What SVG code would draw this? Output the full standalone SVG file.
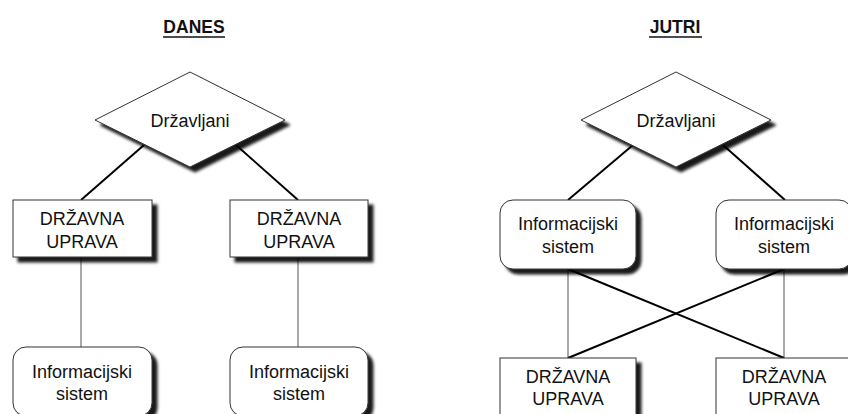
<svg xmlns="http://www.w3.org/2000/svg" width="848" height="414" viewBox="0 0 848 414">
  <defs>
    <filter id="shadow" x="-10%" y="-10%" width="130%" height="140%">
      <feGaussianBlur in="SourceAlpha" stdDeviation="1.6"/>
      <feOffset dx="5" dy="5" result="off"/>
      <feFlood flood-color="#000" flood-opacity="0.9"/>
      <feComposite in2="off" operator="in" result="sh"/>
      <feMerge>
        <feMergeNode in="sh"/>
        <feMergeNode in="SourceGraphic"/>
      </feMerge>
    </filter>
  </defs>
  <style>
    .shape { fill: #fff; stroke: #333; stroke-width: 1; filter: url(#shadow); }
    .lbl { font-family: "Liberation Sans", Arial, sans-serif; font-size: 18px; fill: #111; text-anchor: middle; }
    .title { font-family: "Liberation Sans", Arial, sans-serif; font-size: 17.5px; font-weight: bold; fill: #111; text-anchor: middle; }
    .uline { stroke: #111; stroke-width: 1.6; }
    .thick { stroke: #000; stroke-width: 2; fill: none; }
    .thin { stroke: #555; stroke-width: 1; fill: none; }
  </style>

  <rect width="848" height="414" fill="#fff"/>

  <!-- headings -->
  <g id="title-danes">
    <text class="title" x="194" y="33">DANES</text>
    <line class="uline" x1="163" y1="37" x2="225" y2="37"/>
  </g>
  <g id="title-jutri">
    <text class="title" x="675" y="33">JUTRI</text>
    <line class="uline" x1="649" y1="37" x2="702" y2="37"/>
  </g>

  <!-- connectors -->
  <g id="connectors">
    <line class="thick" x1="144" y1="145" x2="81" y2="200"/>
    <line class="thick" x1="236" y1="145" x2="298" y2="200"/>
    <line class="thin" x1="81" y1="257" x2="81" y2="347"/>
    <line class="thin" x1="298" y1="257" x2="298" y2="347"/>

    <line class="thick" x1="633" y1="145" x2="568" y2="200"/>
    <line class="thick" x1="723" y1="145" x2="785" y2="200"/>
    <line class="thin" x1="568" y1="269" x2="568" y2="358"/>
    <line class="thin" x1="784" y1="269" x2="784" y2="358"/>
    <line class="thick" x1="568" y1="269" x2="784" y2="358"/>
    <line class="thick" x1="784" y1="269" x2="568" y2="358"/>
  </g>

  <!-- DANES -->
  <g id="danes-drzavljani">
    <polygon class="shape" points="190,72 285,120 190,167 95,120"/>
    <text class="lbl" x="190" y="127">Državljani</text>
  </g>
  <g id="danes-uprava-1">
    <rect class="shape" x="13" y="200" width="139" height="57"/>
    <text class="lbl" x="82" y="225">DRŽAVNA</text>
    <text class="lbl" x="82" y="248">UPRAVA</text>
  </g>
  <g id="danes-uprava-2">
    <rect class="shape" x="230" y="200" width="138" height="57"/>
    <text class="lbl" x="299" y="225">DRŽAVNA</text>
    <text class="lbl" x="299" y="248">UPRAVA</text>
  </g>
  <g id="danes-sistem-1">
    <rect class="shape" x="13" y="347" width="139" height="69" rx="13" ry="13"/>
    <text class="lbl" x="82" y="378">Informacijski</text>
    <text class="lbl" x="82" y="400">sistem</text>
  </g>
  <g id="danes-sistem-2">
    <rect class="shape" x="230" y="347" width="138" height="69" rx="13" ry="13"/>
    <text class="lbl" x="299" y="378">Informacijski</text>
    <text class="lbl" x="299" y="400">sistem</text>
  </g>

  <!-- JUTRI -->
  <g id="jutri-drzavljani">
    <polygon class="shape" points="676,72 771,120 676,167 581,120"/>
    <text class="lbl" x="676" y="127">Državljani</text>
  </g>
  <g id="jutri-sistem-1">
    <rect class="shape" x="500" y="200" width="136" height="69" rx="13" ry="13"/>
    <text class="lbl" x="568" y="230">Informacijski</text>
    <text class="lbl" x="568" y="253">sistem</text>
  </g>
  <g id="jutri-sistem-2">
    <rect class="shape" x="716" y="200" width="136" height="69" rx="13" ry="13"/>
    <text class="lbl" x="784" y="230">Informacijski</text>
    <text class="lbl" x="784" y="253">sistem</text>
  </g>
  <g id="jutri-uprava-1">
    <rect class="shape" x="500" y="358" width="136" height="58"/>
    <text class="lbl" x="568" y="383">DRŽAVNA</text>
    <text class="lbl" x="568" y="405">UPRAVA</text>
  </g>
  <g id="jutri-uprava-2">
    <rect class="shape" x="716" y="358" width="136" height="58"/>
    <text class="lbl" x="784" y="383">DRŽAVNA</text>
    <text class="lbl" x="784" y="405">UPRAVA</text>
  </g>
</svg>
